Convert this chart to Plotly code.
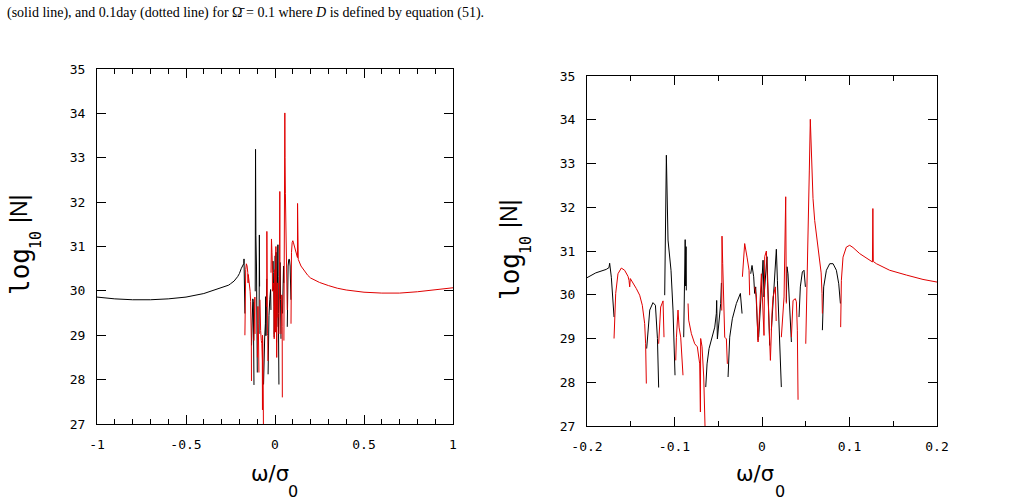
import plotly.graph_objects as go

# ---------------- data ----------------
black_x = [
    -1.0, -0.9, -0.8, -0.7, -0.6, -0.5, -0.4, -0.3, -0.26, -0.25, -0.23, -0.21, -0.2, -0.19, -0.178, -0.1749, -0.1741, -0.1722, -0.1691, None,
    -0.1318, -0.1283, -0.1246, -0.1218, -0.1195, -0.1181, None,
    -0.1112, -0.1093, -0.1074, -0.104, -0.1017, -0.0994, None,
    -0.0895, -0.0878, -0.0872, -0.0868, -0.0865, None,
    -0.0643, -0.0628, -0.0605, -0.0579, -0.054, -0.0522, -0.0518, -0.0510, -0.0491, -0.0472, -0.0464, None,
    -0.0388, -0.0369, -0.0339, -0.0293, -0.0247, -0.0228, None,
    -0.0129, -0.0114, -0.0095, -0.0084, -0.0072, -0.0057, -0.0045, None,
    -0.0038, 0.0012, 0.0023, 0.0057, 0.0088, None,
    0.0107, 0.0138, 0.0164, 0.0176, 0.0191, 0.0206, 0.0221, None,
    0.0278, 0.0286, 0.0297, 0.0313, 0.0336, None,
    0.0423, 0.0438, 0.0461, 0.048, 0.0496, None,
    0.069, 0.0705, 0.0736, 0.0774, 0.0812, 0.085, 0.0877, 0.0896,
]
black_y = [
    29.86, 29.82, 29.80, 29.80, 29.82, 29.86, 29.94, 30.07, 30.13, 30.16, 30.22, 30.32, 30.39, 30.50, 30.58, 30.62, 30.72, 30.40, 29.49, None,
    28.77, 29.65, 29.82, 29.76, 29.0, 27.88, None,
    29.99, 33.19, 31.25, 30.56, 29.65, 28.16, None,
    29.03, 31.26, 30.2, 31.1, 30.1, None,
    27.89, 28.42, 28.77, 28.96, 29.26, 29.57, 29.87, 28.99, 29.45, 29.8, 30.27, None,
    28.12, 29.03, 29.45, 29.8, 30.03, 29.57, None,
    30.48, 30.67, 30.41, 30.03, 30.18, 29.64, 28.96, None,
    29.03, 30.79, 29.95, 30.87, 28.84, None,
    29.19, 30.18, 31.04, 30.33, 29.49, 28.81, 27.89, None,
    29.84, 30.64, 30.48, 29.8, 28.92, None,
    29.49, 30.18, 30.52, 30.56, 30.18, None,
    29.19, 30.18, 30.56, 30.71, 30.71, 30.56, 30.25, 29.80,
]

red_x = [
    -0.1691, -0.1672, -0.1646, -0.1608, -0.157, -0.1531, -0.152, -0.1512, -0.1505, -0.1474, -0.1436, -0.1398, -0.1368, -0.1341, -0.133, -0.1322, None,
    -0.1181, -0.1158, -0.1131, -0.112, None,
    -0.0986, -0.0978, -0.096, -0.0948, -0.0929, -0.0903, None,
    -0.0845, -0.0838, -0.0807, -0.0769, -0.0739, -0.0712, -0.0704, -0.0701, -0.0685, -0.0666, -0.0651, None,
    -0.046, -0.0457, -0.0449, -0.0438, -0.0426, -0.0407, -0.0396, None,
    -0.0224, -0.0198, -0.0171, -0.0148, -0.0141, None,
    -0.0083, -0.0064, -0.0045, -0.0026, -0.0007, 0.0023, 0.0031, 0.005, 0.0069, 0.0096, 0.0115, 0.0126, 0.0153, 0.0162, None,
    0.0221, 0.024, 0.0252, 0.0271, 0.0274, 0.0278, None,
    0.0336, 0.0355, 0.0381, 0.0393, 0.0404, 0.0412, None,
    0.05, 0.0511, 0.0526, 0.0541, 0.0552, 0.0565, 0.0583, 0.0602, 0.0621, 0.064, 0.0659, 0.0676, 0.0686, 0.069, None,
    0.0899, 0.0907, 0.0926, 0.0964, 0.1002, 0.104, 0.1117, 0.1193, 0.1262, 0.1267, 0.1272, 0.1307, 0.1459, 0.165, 0.184,
    0.2, 0.25, 0.3, 0.35, 0.4, 0.5, 0.6, 0.7, 0.8, 0.9, 1.0,
]
red_y = [
    29.0, 30.03, 30.48, 30.61, 30.56, 30.42, 30.33, 30.18, 30.37, 30.27, 30.14, 29.99, 29.76, 29.34, 28.88, 27.97, None,
    28.88, 29.72, 29.86, 29.03, None,
    28.5, 29.03, 29.65, 29.26, 29.03, 28.16, None,
    29.8, 29.42, 29.11, 28.88, 28.81, 28.42, 27.32, 29.0, 28.81, 28.12, 26.97, None,
    29.64, 31.34, 30.71, 29.8, 29.03, 28.99, 28.42, None,
    30.41, 31.17, 30.86, 30.56, 29.99, None,
    30.18, 29.95, 28.92, 29.9, 30.48, 29.07, 30.87, 31.0, 29.9, 28.5, 29.6, 29.95, 30.18, 29.4, None,
    29.03, 29.64, 29.95, 32.24, 30.71, 29.8, None,
    29.03, 29.87, 29.91, 29.84, 29.19, 27.6, None,
    28.88, 30.18, 31.48, 32.85, 34.01, 33.0, 32.2, 31.7, 31.4, 31.1, 30.87, 30.5, 30.03, 29.57, None,
    29.26, 30.33, 30.86, 31.09, 31.13, 31.08, 30.94, 30.83, 30.75, 31.97, 30.76, 30.71, 30.56, 30.45, 30.35,
    30.29, 30.19, 30.12, 30.06, 30.02, 29.97, 29.95, 29.95, 29.98, 30.02, 30.07,
]

left_xticks = [-1, -0.5, 0, 0.5, 1]
left_xticklabels = ["-1", "-0.5", "0", "0.5", "1"]
right_xticks = [-0.2, -0.1, 0, 0.1, 0.2]
right_xticklabels = ["-0.2", "-0.1", "0", "0.1", "0.2"]
yticks = [27, 28, 29, 30, 31, 32, 33, 34, 35]
yticklabels = ["27", "28", "29", "30", "31", "32", "33", "34", "35"]

caption = ("(solid line), and 0.1day (dotted line) for \u03a9\u0304 = 0.1 where "
           "<i>D</i> is defined by equation (51).")
ylabel_main = "log"
ylabel_sub = "10"
ylabel_abs = "|N|"
xlabel_main = "\u03c9/\u03c3"
xlabel_sub = "0"

# ---------------- figure ----------------
W, H = 1010, 503
fig = go.Figure()
for xa, ya in (("x", "y"), ("x2", "y2")):
    fig.add_trace(go.Scatter(x=black_x, y=black_y, mode="lines", xaxis=xa, yaxis=ya,
                             line=dict(color="black", width=1), connectgaps=False,
                             hoverinfo="skip"))
    fig.add_trace(go.Scatter(x=red_x, y=red_y, mode="lines", xaxis=xa, yaxis=ya,
                             line=dict(color="#e00000", width=1), connectgaps=False,
                             hoverinfo="skip"))

tickfont = dict(family="DejaVu Sans Mono", size=13, color="black")
common = dict(showline=True, linecolor="black", linewidth=1, mirror="ticks",
              ticks="inside", ticklen=9, tickcolor="black", tickwidth=1,
              showgrid=False, zeroline=False, tickfont=tickfont,
              tickmode="array", ticklabelstandoff=8, automargin=False)


def px_x(p):
    return p / W


def px_y(p):
    return 1 - p / H


fig.update_layout(
    template="none",
    width=W, height=H, margin=dict(l=0, r=0, t=0, b=0, pad=0, autoexpand=False),
    paper_bgcolor="white", plot_bgcolor="white", showlegend=False,
    xaxis=dict(domain=[px_x(97), px_x(453)], range=[-1, 1], anchor="y",
               tickvals=left_xticks, ticktext=left_xticklabels,
               minor=dict(ticks="inside", ticklen=5, dtick=0.1, tick0=0,
                          tickcolor="black", showgrid=False), **common),
    yaxis=dict(domain=[px_y(424), px_y(69)], range=[27, 35], anchor="x",
               tickvals=yticks, ticktext=yticklabels, **common),
    xaxis2=dict(domain=[px_x(587), px_x(937)], range=[-0.2, 0.2], anchor="y2",
                tickvals=right_xticks, ticktext=right_xticklabels,
                minor=dict(ticks="inside", ticklen=5, dtick=0.05, tick0=0,
                           tickcolor="black", showgrid=False), **common),
    yaxis2=dict(domain=[px_y(426), px_y(76)], range=[27, 35], anchor="x2",
                tickvals=yticks, ticktext=yticklabels, **common),
)


def label(text, cx, cy, family, size, angle=0):
    return dict(text=text, x=px_x(cx), y=px_y(cy), xref="paper", yref="paper",
                xanchor="center", yanchor="middle", showarrow=False,
                textangle=angle, font=dict(family=family, size=size, color="black"))


annotations = [
    dict(text=caption, x=px_x(5), y=px_y(13), xref="paper", yref="paper",
         xanchor="left", yanchor="middle", showarrow=False,
         font=dict(family="Liberation Serif", size=14, color="black")),
]
for dx, dy in ((0, 0), (490, 5)):
    annotations += [
        label(ylabel_main, 20 + dx, 272 + dy, "DejaVu Sans Mono", 26, -90),
        label(ylabel_sub, 36 + dx, 240 + dy, "DejaVu Sans Mono", 15, -90),
        label(ylabel_abs, 19 + dx, 209 + dy, "Liberation Sans", 23, -90),
    ]
for cx, sx in ((270, 293), (755, 780)):
    annotations += [
        label(xlabel_main, cx, 474, "DejaVu Sans", 21),
        label(xlabel_sub, sx, 491, "DejaVu Sans", 16),
    ]
fig.update_layout(annotations=annotations)

fig.write_html("out.html")
